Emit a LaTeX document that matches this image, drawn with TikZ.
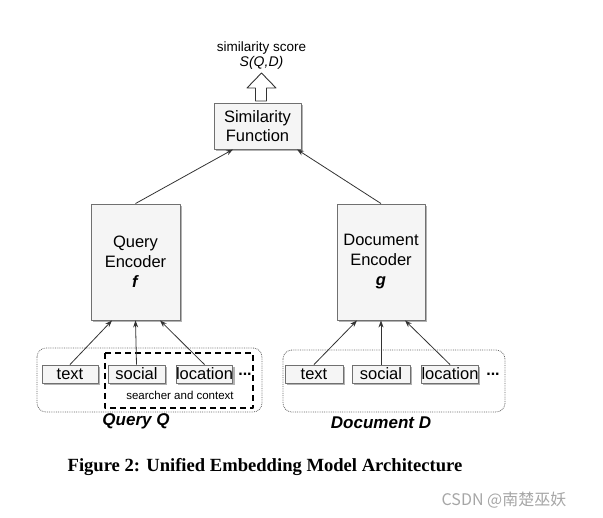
\documentclass[tikz,border=0pt]{standalone}
\usepackage{fontspec}
\setmainfont{Liberation Sans}
\newfontfamily\capfont{Liberation Serif}
\newfontfamily\cjk{Noto Sans CJK SC}
\usetikzlibrary{arrows.meta,shadows,positioning}
\definecolor{boxfill}{HTML}{F5F5F5}
\definecolor{boxline}{HTML}{707070}
\tikzset{
  box/.style={draw=boxline, fill=boxfill, line width=.9pt, align=center,
    font=\fontsize{16.5}{19.5}\selectfont,
    drop shadow={shadow xshift=1.6pt, shadow yshift=-1.8pt, fill=gray!60, opacity=1}},
  inbox/.style={box, minimum height=18pt, inner sep=0pt},
  group/.style={draw=black!60, densely dotted, rounded corners=9pt, line width=.8pt},
  link/.style={-{Stealth[length=7pt,width=5pt]}, line width=.8pt, draw=black!80}
}
\begin{document}
\begin{tikzpicture}[x=1pt,y=-1pt, line join=round]
\useasboundingbox (0,0) rectangle (603,518);
\def\ytop{374} % hang cua cac o dau vao
% khoi chinh
\node[box, minimum width=87pt, minimum height=46pt, inner sep=0pt] (sim) at (257.5,126) {Similarity\\Function};
\node[box, minimum width=89pt, minimum height=116pt] (qenc) at (135.5,262) {Query\\Encoder\\[1pt]\textbf{\textit{f}}};
\node[box, minimum width=88pt, minimum height=116pt] (denc) at (381,262) {Document\\Encoder\\[1pt]\textbf{\textit{g}}};
% nhom truy van
\draw[group] (37,348) rectangle (262,412);
\node[inbox, minimum width=56pt] (qtext) at (70,\ytop) {text};
\node[inbox, minimum width=57pt] (qsocial) at (136.5,\ytop) {social};
\node[inbox, minimum width=55pt] (qloc) at (204.5,\ytop) {location};
\node[font=\fontsize{16}{19}\selectfont\bfseries] (qdots) at (245,\ytop) {...};
\draw[dashed, line width=1.4pt, dash pattern=on 6pt off 4pt] (105,353) rectangle (253,408);
\node[font=\fontsize{11.5}{13}\selectfont] (ctx) at (180,395) {searcher and context};
\node[font=\fontsize{17}{20}\selectfont\bfseries\itshape] (qlab) at (136,421) {Query Q};
% nhom tai lieu
\draw[group] (283,350) rectangle (505,412);
\node[inbox, minimum width=58pt] (dtext) at (314,\ytop) {text};
\node[inbox, minimum width=58pt] (dsocial) at (381,\ytop) {social};
\node[inbox, minimum width=56pt] (dloc) at (450,\ytop) {location};
\node[font=\fontsize{16}{19}\selectfont\bfseries] (ddots) at (493,\ytop) {...};
\node[font=\fontsize{17}{20}\selectfont\bfseries\itshape] (dlab) at (381,423) {Document D};
% mui ten
\draw[link] (qtext.north) -- ([xshift=-23.5pt]qenc.south);
\draw[link] (qsocial.north) -- (qenc.south);
\draw[link] (qloc.north) -- ([xshift=24.5pt]qenc.south);
\draw[link] (dtext.north) -- ([xshift=-24pt]denc.south);
\draw[link] (dsocial.north) -- (denc.south);
\draw[link] (dloc.north) -- ([xshift=24pt]denc.south);
\draw[link] (qenc.north) -- ([xshift=-24.5pt]sim.south);
\draw[link] (denc.north) -- ([xshift=39.5pt]sim.south);
% diem so
\draw[line width=.9pt, draw=black!80, fill=white] (255.5,101) -- (255.5,88) -- (247,88) -- (261.5,73)
  -- (276,88) -- (266.5,88) -- (266.5,101) -- cycle;
\node[font=\fontsize{13.5}{16}\selectfont] (score) at (261.5,48) {similarity score};
\node[font=\fontsize{14}{16}\selectfont\itshape] (sqd) at (261.5,63) {S(Q,D)};
% chu thich
\node[font=\capfont\fontsize{18.6}{21}\selectfont\bfseries] (cap) at (265,467) {Figure 2: Unified Embedding Model Architecture};
\node[font=\cjk\fontsize{16}{18}\selectfont, text=gray!70] (mark) at (504,500) {CSDN @南楚巫妖};
\end{tikzpicture}
\end{document}
